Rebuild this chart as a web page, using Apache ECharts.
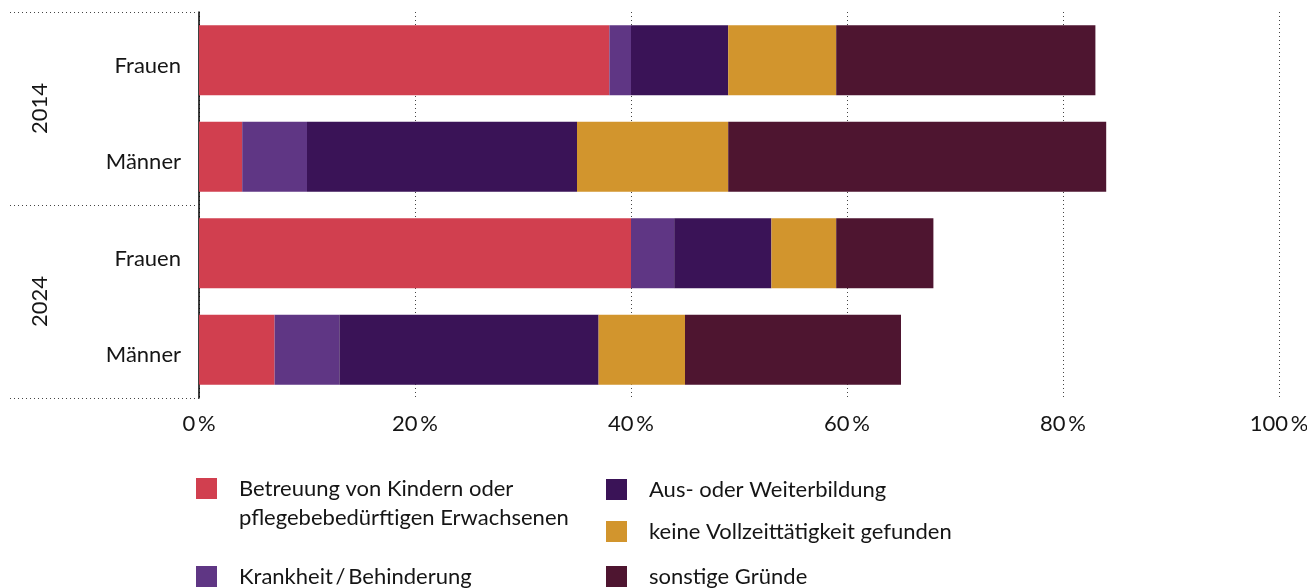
<!DOCTYPE html>
<html>
<head>
<meta charset="utf-8">
<title>Gründe für Teilzeit</title>
<script src="https://cdn.jsdelivr.net/npm/echarts@6/dist/echarts.min.js"></script>
<style>
  html, body { margin: 0; padding: 0; background: #fff; }
  #chart { width: 1307px; height: 588px; }
</style>
</head>
<body>
<div id="chart"></div>
<script>
// Daten (Anteile in %), Reihenfolge von oben nach unten
const years = ['2014', '2024']
const groups = ['Frauen', 'Männer']
const rows = ['2014 Frauen', '2014 Männer', '2024 Frauen', '2024 Männer']
const xTicks = [0, 20, 40, 60, 80, 100]

const betreuung = [38, 4, 40, 7]
const krankheit = [2, 6, 4, 6]
const ausbildung = [9, 25, 9, 24]
const keineVollzeit = [10, 14, 6, 8]
const sonstige = [24, 35, 9, 20]

const seriesNames = [
  'Betreuung von Kindern oder\npflegebebedürftigen Erwachsenen',
  'Krankheit\u2009/\u2009Behinderung',
  'Aus- oder Weiterbildung',
  'keine Vollzeittätigkeit gefunden',
  'sonstige Gründe'
]
const seriesValues = [betreuung, krankheit, ausbildung, keineVollzeit, sonstige]
const colors = ['#d13f4f', '#5f3684', '#3a1357', '#d2952d', '#4e1530']

const font = 'Lato, "Noto Sans", sans-serif'
const textColor = '#151515'

const chart = echarts.init(document.getElementById('chart'), null, { renderer: 'canvas' })

// Legende: jedes Element einzeln platziert (zwei Spalten)
// Quadrat 21x21 plus unsichtbarer Punkt, damit der Text weiter rechts beginnt
const legendIcon = 'path://M0,0H21V21H0Z M38,21L38,21'
const legendPos = [
  { left: 196, top: 445 },
  { left: 196, top: 562 },
  { left: 606, top: 475 },
  { left: 606, top: 517 },
  { left: 606, top: 562 }
]
const legends = seriesNames.map((name, i) => ({
  data: [name],
  left: legendPos[i].left,
  top: legendPos[i].top,
  padding: 0,
  itemWidth: 38,
  itemHeight: 21,
  itemGap: 0,
  selectedMode: false,
  icon: legendIcon,
  // mehrzeiliger Eintrag: leere erste Zeile, damit das Quadrat auf Höhe der ersten Textzeile sitzt
  formatter: n => n.indexOf('\n') >= 0 ? ' \n' + n : n,
  textStyle: {
    fontFamily: font,
    fontSize: 22,
    color: textColor,
    lineHeight: 29
  }
}))

const option = {
  animation: false,
  color: colors,
  textStyle: { fontFamily: font },
  grid: { left: 199, right: 28, top: 12, bottom: 190, containLabel: false, outerBoundsMode: 'none' },
  legend: legends,
  xAxis: {
    type: 'value',
    min: 0,
    max: 100,
    interval: 20,
    axisLine: { show: false },
    axisTick: { show: false },
    splitLine: { show: true, lineStyle: { type: [1, 3], color: '#444', width: 1 } },
    axisLabel: {
      fontFamily: font,
      fontSize: 22,
      color: textColor,
      margin: 15,
      formatter: v => xTicks.indexOf(v) >= 0 ? v + '\u2009%' : ''
    }
  },
  yAxis: [
    {
      type: 'category',
      data: rows,
      inverse: true,
      position: 'left',
      axisLine: { show: true, lineStyle: { color: '#000', width: 1.5 } },
      axisTick: { show: false },
      splitLine: { show: false },
      axisLabel: {
        fontFamily: font,
        fontSize: 22,
        color: textColor,
        margin: 18,
        // leere erste Zeile schiebt die Beschriftung leicht unter die Balkenmitte
        lineHeight: 11,
        formatter: v => ' \n' + groups.find(g => v.indexOf(g) >= 0)
      }
    },
    {
      type: 'category',
      data: years,
      inverse: true,
      position: 'left',
      offset: 0,
      axisLine: { show: false },
      axisTick: { show: true, length: 189, lineStyle: { type: [1, 3], color: '#444', width: 1 } },
      splitLine: { show: false },
      axisLabel: {
        fontFamily: font,
        fontSize: 22,
        color: textColor,
        rotate: 90,
        margin: 148
      }
    }
  ],
  series: seriesNames.map((name, i) => ({
    name: name,
    type: 'bar',
    stack: 'gesamt',
    yAxisIndex: 0,
    barWidth: 70,
    data: seriesValues[i],
    itemStyle: { color: colors[i] },
    emphasis: { disabled: true }
  }))
}

chart.setOption(option)
</script>
</body>
</html>
